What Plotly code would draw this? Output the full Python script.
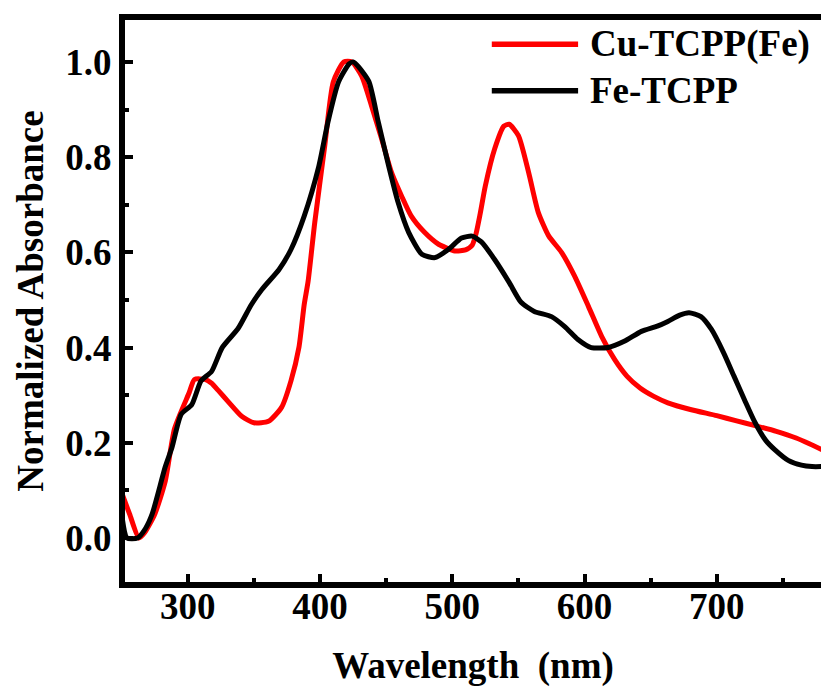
import plotly.graph_objects as go

# Cu-TCPP(Fe) (red)
cu_wl = [250, 256, 263, 267, 275, 283, 290, 301, 305, 313, 318, 323, 331, 341, 350, 361, 371, 378, 384, 388, 391, 396, 403.5, 410, 418, 424, 431.5, 439, 446.6, 454, 461.7, 469, 479, 489.6, 502, 510, 515, 518, 521, 525, 532, 539, 543, 550, 557.7, 565, 573, 582.6, 592.5, 603, 613, 622.7, 632, 642, 652, 663, 680, 700, 715, 729, 745, 760, 770, 780]
cu_abs = [0.095, 0.05, 0.0, 0.01, 0.05, 0.12, 0.23, 0.305, 0.333, 0.333, 0.325, 0.31, 0.285, 0.255, 0.242, 0.245, 0.275, 0.33, 0.40, 0.49, 0.54, 0.663, 0.823, 0.958, 1.0, 1.0, 0.97, 0.907, 0.838, 0.768, 0.718, 0.676, 0.642, 0.617, 0.603, 0.605, 0.615, 0.64, 0.68, 0.74, 0.817, 0.865, 0.869, 0.845, 0.768, 0.684, 0.634, 0.60, 0.55, 0.486, 0.423, 0.375, 0.34, 0.315, 0.298, 0.284, 0.27, 0.257, 0.246, 0.236, 0.224, 0.21, 0.198, 0.185]

# Fe-TCPP (black)
fe_wl = [250, 254, 262, 268, 273, 283, 288, 295, 303, 310, 318, 326, 338, 348, 356, 369, 378, 388, 399, 406, 414, 422, 425, 429, 437, 444, 452, 459, 467, 477, 487, 497, 507, 515, 522, 532, 543, 552, 562, 575, 585, 595, 605, 618, 630, 643, 655, 663, 672, 679, 688, 696, 705, 713, 721, 729, 737, 744, 754, 764, 772, 780]
fe_abs = [0.05, 0.0, 0.0, 0.02, 0.05, 0.15, 0.19, 0.26, 0.28, 0.33, 0.35, 0.40, 0.44, 0.49, 0.522, 0.564, 0.606, 0.676, 0.78, 0.874, 0.958, 0.996, 1.0, 0.99, 0.958, 0.874, 0.78, 0.705, 0.642, 0.596, 0.589, 0.606, 0.63, 0.634, 0.622, 0.585, 0.537, 0.495, 0.476, 0.465, 0.444, 0.417, 0.40, 0.40, 0.413, 0.434, 0.445, 0.455, 0.468, 0.473, 0.465, 0.438, 0.39, 0.34, 0.29, 0.242, 0.205, 0.185, 0.163, 0.153, 0.15, 0.15]

x_ticks = [300, 400, 500, 600, 700]
y_ticks = [0.0, 0.2, 0.4, 0.6, 0.8, 1.0]
series_names = ["Cu-TCPP(Fe)", "Fe-TCPP"]
series_colors = ["#ff0000", "#000000"]

FONT = "Liberation Serif"
FS = 37

fig = go.Figure()
fig.add_trace(go.Scatter(x=cu_wl, y=cu_abs, mode="lines", name=series_names[0],
                         line=dict(color=series_colors[0], width=5, shape="spline", smoothing=0.6),
                         showlegend=False))
fig.add_trace(go.Scatter(x=fe_wl, y=fe_abs, mode="lines", name=series_names[1],
                         line=dict(color=series_colors[1], width=5, shape="spline", smoothing=0.6),
                         showlegend=False))

# manual legend (lines in paper coords + text)
leg_y = [0.957, 0.874]
for name, col, yy in zip(series_names, series_colors, leg_y):
    fig.add_shape(type="line", xref="paper", yref="paper", x0=0.527, x1=0.651, y0=yy, y1=yy,
                  line=dict(color=col, width=5.5))
    fig.add_annotation(xref="paper", yref="paper", x=0.665, y=yy, xanchor="left", yanchor="middle",
                       text="<b>%s</b>" % name, showarrow=False,
                       font=dict(family=FONT, size=FS, color="black"))

axis_common = dict(showline=True, linecolor="black", linewidth=6, ticks="inside",
                   tickcolor="black", tickwidth=4, ticklen=8, showgrid=False, zeroline=False,
                   tickfont=dict(family=FONT, size=FS, color="black"))

fig.update_xaxes(range=[252.5, 778.8], tickvals=x_ticks, ticktext=["<b>%d</b>" % v for v in x_ticks],
                 mirror=True, ticklabelstandoff=-13,
                 minor=dict(ticks="inside", ticklen=4, tickwidth=4, tickcolor="black", dtick=50, tick0=250),
                 title=dict(text="<b>Wavelength  (nm)</b>", font=dict(family=FONT, size=FS, color="black"),
                            standoff=28),
                 **axis_common)
fig.update_yaxes(range=[-0.0924, 1.088], tickvals=y_ticks, ticktext=["<b>%.1f</b>" % v for v in y_ticks],
                 mirror=False,
                 minor=dict(ticks="inside", ticklen=4, tickwidth=4, tickcolor="black", dtick=0.1, tick0=0.1),
                 title=dict(text="<b>Normalized Absorbance</b>", font=dict(family=FONT, size=FS, color="black"),
                            standoff=12),
                 **axis_common)

fig.update_layout(width=821, height=687, margin=dict(l=125, r=0, t=20, b=105),
                  paper_bgcolor="white", plot_bgcolor="white", showlegend=False)

fig.write_html("out.html", config={"displayModeBar": False},
               post_script="document.body.style.margin='0px';document.body.style.overflow='hidden';")
